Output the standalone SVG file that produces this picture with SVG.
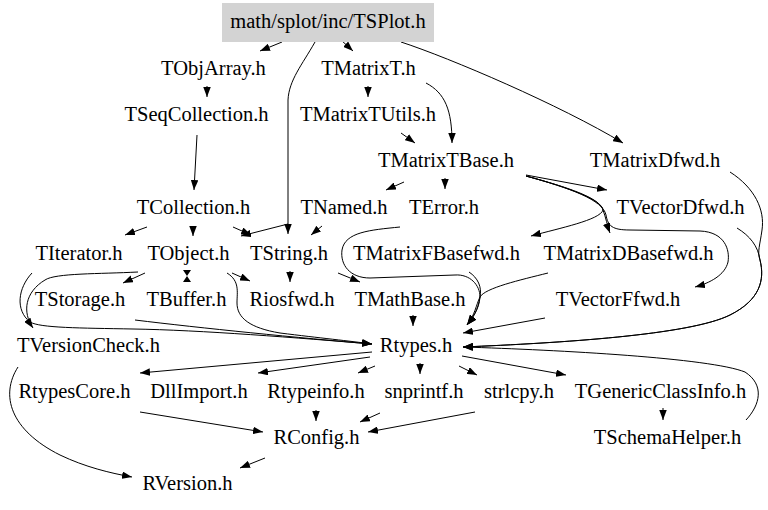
<svg xmlns="http://www.w3.org/2000/svg" width="768" height="510" viewBox="0 0 768 510">
<style>
text{font-family:"Liberation Serif","Times New Roman",serif;font-size:20.5px;fill:#000;text-anchor:middle}
.e path{fill:none;stroke:#000;stroke-width:1;marker-end:url(#a)}
</style>
<defs>
<marker id="a" markerWidth="10" markerHeight="7.5" refX="10" refY="3.75" orient="auto" markerUnits="userSpaceOnUse" viewBox="0 0 10 7.5"><path d="M0,0 L10,3.75 L0,7.5 z" fill="#000"/></marker>
</defs>
<rect width="768" height="510" fill="#fff"/>
<g class="e" id="edges">
<path d="M282,42 L260,51"/>
<path d="M341,40 L353,51"/>
<path d="M315,42 C302,65 289,80 288,100 L288,234"/>
<path d="M288,224 L241,236"/>
<path d="M401,42 C450,58 560,105 623,143"/>
<path d="M207,86 L207,97"/>
<path d="M368,86 L368,97"/>
<path d="M426,83 C445,93 452,110 452,143"/>
<path d="M401,133 L415,143"/>
<path d="M197,135 L194,190"/>
<path d="M404,182 L386,190"/>
<path d="M445,178 L445,189"/>
<path d="M526,175 L607,190"/>
<path d="M526,176 C570,188 600,198 603,210 C606,218 607,225 610,233"/>
<path d="M526,176 C570,188 602,200 603,210 C600,220 560,228 531,236"/>
<path d="M526,176 C570,188 603,200 606,215 C608,226 612,230 630,230 L700,231 C725,232 730,250 728,262 C725,275 710,283 695,287"/>
<path d="M730,172 C755,188 765,210 762,230 C760,245 757,252 760,260 C765,280 760,300 730,315 C690,335 560,343 463,347"/>
<path d="M737,228 C750,236 758,246 760,260 C765,280 760,300 730,315 C690,335 560,343 463,347"/>
<path d="M746,420 C760,405 765,385 745,372 C710,358 560,350 463,347"/>
<path d="M545,318 L463,333"/>
<path d="M548,273 C520,280 485,288 480,297 C476,305 475,315 467,325"/>
<path d="M400,227 C370,230 345,232 342,250 C340,265 350,278 370,278 L455,275 C470,274 480,285 480,297 C479,310 472,318 467,325"/>
<path d="M469,272 C478,278 482,287 480,297 C478,310 473,318 467,325"/>
<path d="M338,273 L360,282"/>
<path d="M290,271 L290,282"/>
<path d="M322,226 L311,235"/>
<path d="M147,227 L125,235"/>
<path d="M193,226 L193,236"/>
<path d="M233,227 L251,235"/>
<path d="M145,273 L123,283"/>
<path d="M232,273 L250,281"/>
<path d="M227,273 C240,281 237,292 237,303 C237,318 250,328 280,333 C320,338 350,341 372,344"/>
<path d="M138,272 C100,274 55,273 45,280 C25,292 22,312 33,328"/>
<path d="M32,273 C18,288 15,310 30,322 C40,328 80,328 133,329 C200,330 300,338 372,344"/>
<path d="M135,320 C200,328 300,338 372,344"/>
<path d="M413,315 L413,326"/>
<path d="M372,352 L140,373"/>
<path d="M370,357 L258,373"/>
<path d="M375,366 L358,373"/>
<path d="M420,363 L420,374"/>
<path d="M459,366 L477,375"/>
<path d="M462,356 L566,375"/>
<path d="M663,408 L663,420"/>
<path d="M316,410 L316,421"/>
<path d="M380,413 L360,422"/>
<path d="M475,412 L368,432"/>
<path d="M140,412 L263,432"/>
<path d="M265,458 L240,468"/>
<path d="M18,367 C0,395 10,430 60,455 C85,467 110,473 132,477"/>
<polygon points="183,270 191,270 187,276 191,282 183,282 187,276" fill="#000"/>
</g>
<g id="n1"><rect x="222" y="3" width="212" height="39" fill="#d3d3d3"/><text x="328" y="28">math/splot/inc/TSPlot.h</text></g>
<g id="n2"><text x="213.5" y="75">TObjArray.h</text></g>
<g id="n3"><text x="368.5" y="75">TMatrixT.h</text></g>
<g id="n4"><text x="196.5" y="121">TSeqCollection.h</text></g>
<g id="n5"><text x="368" y="121">TMatrixTUtils.h</text></g>
<g id="n6"><text x="446" y="167">TMatrixTBase.h</text></g>
<g id="n7"><text x="655" y="167">TMatrixDfwd.h</text></g>
<g id="n8"><text x="193.5" y="214">TCollection.h</text></g>
<g id="n9"><text x="344" y="214">TNamed.h</text></g>
<g id="n10"><text x="444" y="214">TError.h</text></g>
<g id="n11"><text x="680.5" y="214">TVectorDfwd.h</text></g>
<g id="n12"><text x="79" y="260">TIterator.h</text></g>
<g id="n13"><text x="188.5" y="260">TObject.h</text></g>
<g id="n14"><text x="289" y="260">TString.h</text></g>
<g id="n15"><text x="436.5" y="260">TMatrixFBasefwd.h</text></g>
<g id="n16"><text x="628.5" y="260">TMatrixDBasefwd.h</text></g>
<g id="n17"><text x="80" y="306">TStorage.h</text></g>
<g id="n18"><text x="186.5" y="306">TBuffer.h</text></g>
<g id="n19"><text x="292" y="306">Riosfwd.h</text></g>
<g id="n20"><text x="410" y="306">TMathBase.h</text></g>
<g id="n21"><text x="618" y="306">TVectorFfwd.h</text></g>
<g id="n22"><text x="88.5" y="352">TVersionCheck.h</text></g>
<g id="n23"><text x="416" y="352">Rtypes.h</text></g>
<g id="n24"><text x="74.5" y="398">RtypesCore.h</text></g>
<g id="n25"><text x="199" y="398">DllImport.h</text></g>
<g id="n26"><text x="316" y="398">Rtypeinfo.h</text></g>
<g id="n27"><text x="424" y="398">snprintf.h</text></g>
<g id="n28"><text x="519" y="398">strlcpy.h</text></g>
<g id="n29"><text x="660.5" y="398">TGenericClassInfo.h</text></g>
<g id="n30"><text x="316.5" y="444">RConfig.h</text></g>
<g id="n31"><text x="667.5" y="444">TSchemaHelper.h</text></g>
<g id="n32"><text x="187.5" y="490">RVersion.h</text></g>
</svg>
